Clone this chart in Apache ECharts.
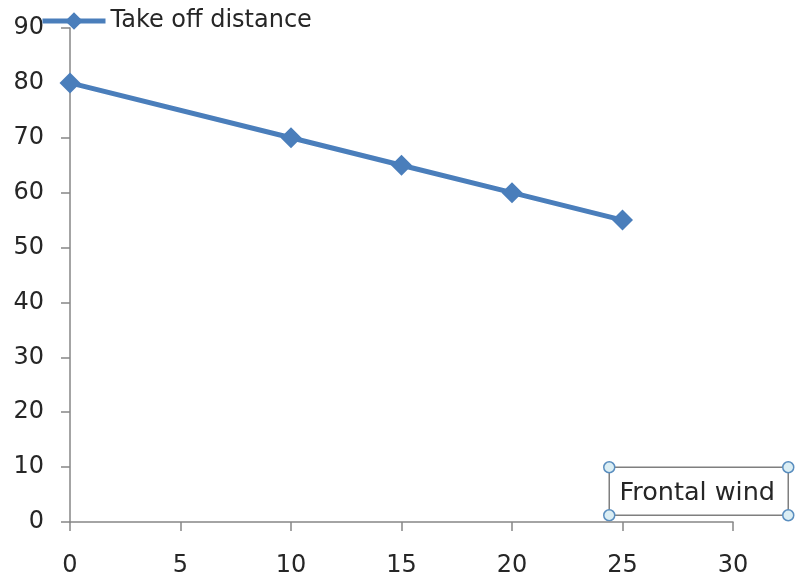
<!DOCTYPE html>
<html><head><meta charset="utf-8">
<script src="https://cdn.jsdelivr.net/npm/echarts@6/dist/echarts.min.js"></script>
<style>html,body{margin:0;padding:0;background:#fff}#c{width:796px;height:581px}</style>
</head><body><div id="c"></div>
<script>
const windSpeed = [0, 10, 15, 20, 25];
const takeOffDistance = [80, 70, 65, 60, 55];
const seriesName = 'Take off distance';
const boxLabel = 'Frontal wind';

const FONT = 'DejaVu Sans';
const FS = 24;
const chart = echarts.init(document.getElementById('c'), null, {renderer: 'canvas'});
const axisCommon = {
  axisLine: {show: true, lineStyle: {color: '#868686', width: 1.5}},
  axisTick: {show: true, length: 9, lineStyle: {color: '#868686', width: 1.5}},
  splitLine: {show: false},
  axisLabel: {color: '#262626', fontSize: FS, fontFamily: FONT}
};
chart.setOption({
  animation: false,
  grid: {left: 70, right: 63, top: 28, bottom: 59, containLabel: false},
  legend: {
    show: true, left: 35, top: 4, itemWidth: 63, itemHeight: 22, itemGap: 10,
    lineStyle: {width: 5},
    textStyle: {color: '#262626', fontSize: FS, fontFamily: FONT, padding: [0,0,0,0]},
    data: [{name: seriesName}]
  },
  xAxis: Object.assign({type: 'value', min: 0, max: 30, interval: 5}, axisCommon,
    {axisLabel: Object.assign({}, axisCommon.axisLabel, {margin: 32})}),
  yAxis: Object.assign({type: 'value', min: 0, max: 90, interval: 10}, axisCommon,
    {axisLabel: Object.assign({}, axisCommon.axisLabel, {margin: 26})}),
  series: [{
    name: seriesName, type: 'line',
    data: windSpeed.map((x, i) => [x, takeOffDistance[i]]),
    symbol: 'diamond', symbolSize: 21,
    lineStyle: {color: '#4A7EBB', width: 5},
    itemStyle: {color: '#4A7EBB'}
  }],
  graphic: [{
    type: 'group', left: 603, top: 461,
    children: [
      {type: 'rect', shape: {x: 6, y: 6, width: 179, height: 48}, style: {fill: '#fff', stroke: '#7f7f7f', lineWidth: 1.5}},
      {type: 'text', style: {x: 94, y: 32, text: boxLabel, fill: '#262626', fontSize: 25.5, fontFamily: FONT, align: 'center', verticalAlign: 'middle'}},
      {type: 'circle', shape: {cx: 6, cy: 6, r: 5.5}, style: {fill: '#dbeef4', stroke: '#5a8ebf', lineWidth: 1.5}},
      {type: 'circle', shape: {cx: 185, cy: 6, r: 5.5}, style: {fill: '#dbeef4', stroke: '#5a8ebf', lineWidth: 1.5}},
      {type: 'circle', shape: {cx: 6, cy: 54, r: 5.5}, style: {fill: '#dbeef4', stroke: '#5a8ebf', lineWidth: 1.5}},
      {type: 'circle', shape: {cx: 185, cy: 54, r: 5.5}, style: {fill: '#dbeef4', stroke: '#5a8ebf', lineWidth: 1.5}}
    ]
  }]
});
</script></body></html>
